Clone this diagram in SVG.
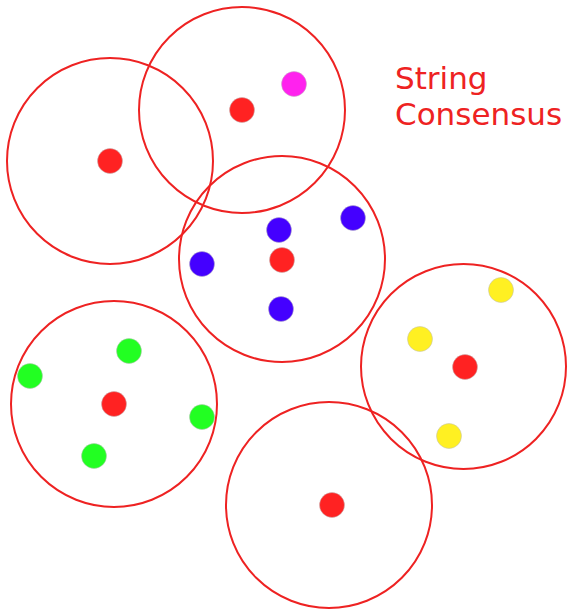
<svg xmlns="http://www.w3.org/2000/svg" width="571" height="610" viewBox="0 0 571 610">
<style>
.c{fill:none;stroke:#ee2222;stroke-width:2}
.d{stroke:#bbbbbb;stroke-width:0.5}
.r{fill:#ff2222}.m{fill:#ff22ee}.b{fill:#4400ff}.g{fill:#22ff22}.y{fill:#fff022}
text{font-family:"DejaVu Sans",sans-serif;font-size:31px;fill:#ee2222}
</style>
<rect width="571" height="610" fill="#ffffff"/>
<g id="cluster1"><circle class="c" cx="110" cy="161" r="103"/><circle class="d r" cx="110" cy="161" r="12.5"/></g>
<g id="cluster2"><circle class="c" cx="242" cy="110" r="103"/><circle class="d r" cx="242" cy="110" r="12.5"/><circle class="d m" cx="294" cy="84" r="12.5"/></g>
<g id="cluster3"><circle class="c" cx="282" cy="259" r="103"/><circle class="d r" cx="282" cy="260" r="12.5"/><circle class="d b" cx="279" cy="230" r="12.5"/><circle class="d b" cx="202" cy="264" r="12.5"/><circle class="d b" cx="353" cy="218" r="12.5"/><circle class="d b" cx="281" cy="309" r="12.5"/></g>
<g id="cluster4"><circle class="c" cx="114" cy="404" r="103"/><circle class="d r" cx="114" cy="404" r="12.5"/><circle class="d g" cx="129" cy="351" r="12.5"/><circle class="d g" cx="30" cy="376" r="12.5"/><circle class="d g" cx="202" cy="417" r="12.5"/><circle class="d g" cx="94" cy="456" r="12.5"/></g>
<g id="cluster5"><circle class="c" cx="463.5" cy="366.5" r="102.5"/><circle class="d r" cx="465" cy="367" r="12.5"/><circle class="d y" cx="501" cy="290" r="12.5"/><circle class="d y" cx="420" cy="339" r="12.5"/><circle class="d y" cx="449" cy="436" r="12.5"/></g>
<g id="cluster6"><circle class="c" cx="329" cy="505" r="103"/><circle class="d r" cx="332" cy="505" r="12.5"/></g>
<g id="connectors"></g>
<g id="label"><text x="395" y="89">String</text><text x="395" y="125">Consensus</text></g>
</svg>
